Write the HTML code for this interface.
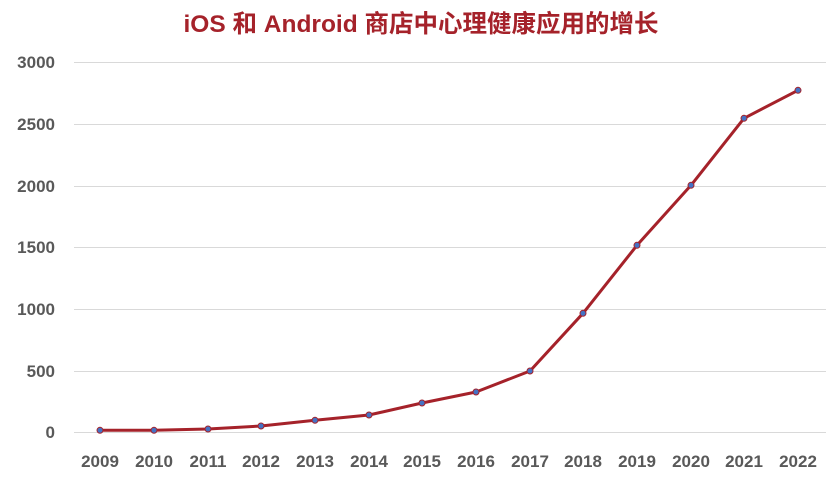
<!DOCTYPE html>
<html><head><meta charset="utf-8"><style>
html,body{margin:0;padding:0;background:#fff;width:837px;height:487px;overflow:hidden}
text{font-family:"Liberation Sans","Noto Sans CJK SC",sans-serif}
</style></head><body>
<svg width="837" height="487" xmlns="http://www.w3.org/2000/svg">
<text x="421" y="32" text-anchor="middle" font-size="24.5" font-weight="bold" fill="#A5222A">iOS 和 Android 商店中心理健康应用的增长</text>
<g stroke="#d9d9d9" stroke-width="1">
<line x1="74" x2="826" y1="62.5" y2="62.5"/>
<line x1="74" x2="826" y1="124.5" y2="124.5"/>
<line x1="74" x2="826" y1="186.5" y2="186.5"/>
<line x1="74" x2="826" y1="247.5" y2="247.5"/>
<line x1="74" x2="826" y1="309.5" y2="309.5"/>
<line x1="74" x2="826" y1="371.5" y2="371.5"/>
<line x1="74" x2="826" y1="432.5" y2="432.5"/>
</g>
<g font-size="17" font-weight="bold" fill="#595959" text-anchor="end">
<text x="55" y="68">3000</text>
<text x="55" y="130">2500</text>
<text x="55" y="192">2000</text>
<text x="55" y="253">1500</text>
<text x="55" y="315">1000</text>
<text x="55" y="377">500</text>
<text x="55" y="438">0</text>
</g>
<g font-size="17" font-weight="bold" fill="#595959" text-anchor="middle">
<text x="100" y="467">2009</text><text x="154" y="467">2010</text><text x="208" y="467">2011</text><text x="261" y="467">2012</text><text x="315" y="467">2013</text><text x="369" y="467">2014</text><text x="422" y="467">2015</text><text x="476" y="467">2016</text><text x="530" y="467">2017</text><text x="583" y="467">2018</text><text x="637" y="467">2019</text><text x="691" y="467">2020</text><text x="744" y="467">2021</text><text x="798" y="467">2022</text>
</g>
<polyline fill="none" stroke="#A5222A" stroke-width="3" stroke-linejoin="round" points="100,430.3 154,430.3 208,429 261,426 315,420.3 369,415 422,403 476,392 530,371 583,313.3 637,245.3 691,185.3 744,118.3 798,90.3"/>
<g fill="#4472C4" stroke="#A5222A" stroke-width="1">
<circle cx="100" cy="430.3" r="3"/><circle cx="154" cy="430.3" r="3"/><circle cx="208" cy="429" r="3"/><circle cx="261" cy="426" r="3"/><circle cx="315" cy="420.3" r="3"/><circle cx="369" cy="415" r="3"/><circle cx="422" cy="403" r="3"/><circle cx="476" cy="392" r="3"/><circle cx="530" cy="371" r="3"/><circle cx="583" cy="313.3" r="3"/><circle cx="637" cy="245.3" r="3"/><circle cx="691" cy="185.3" r="3"/><circle cx="744" cy="118.3" r="3"/><circle cx="798" cy="90.3" r="3"/>
</g>
</svg>
</body></html>
